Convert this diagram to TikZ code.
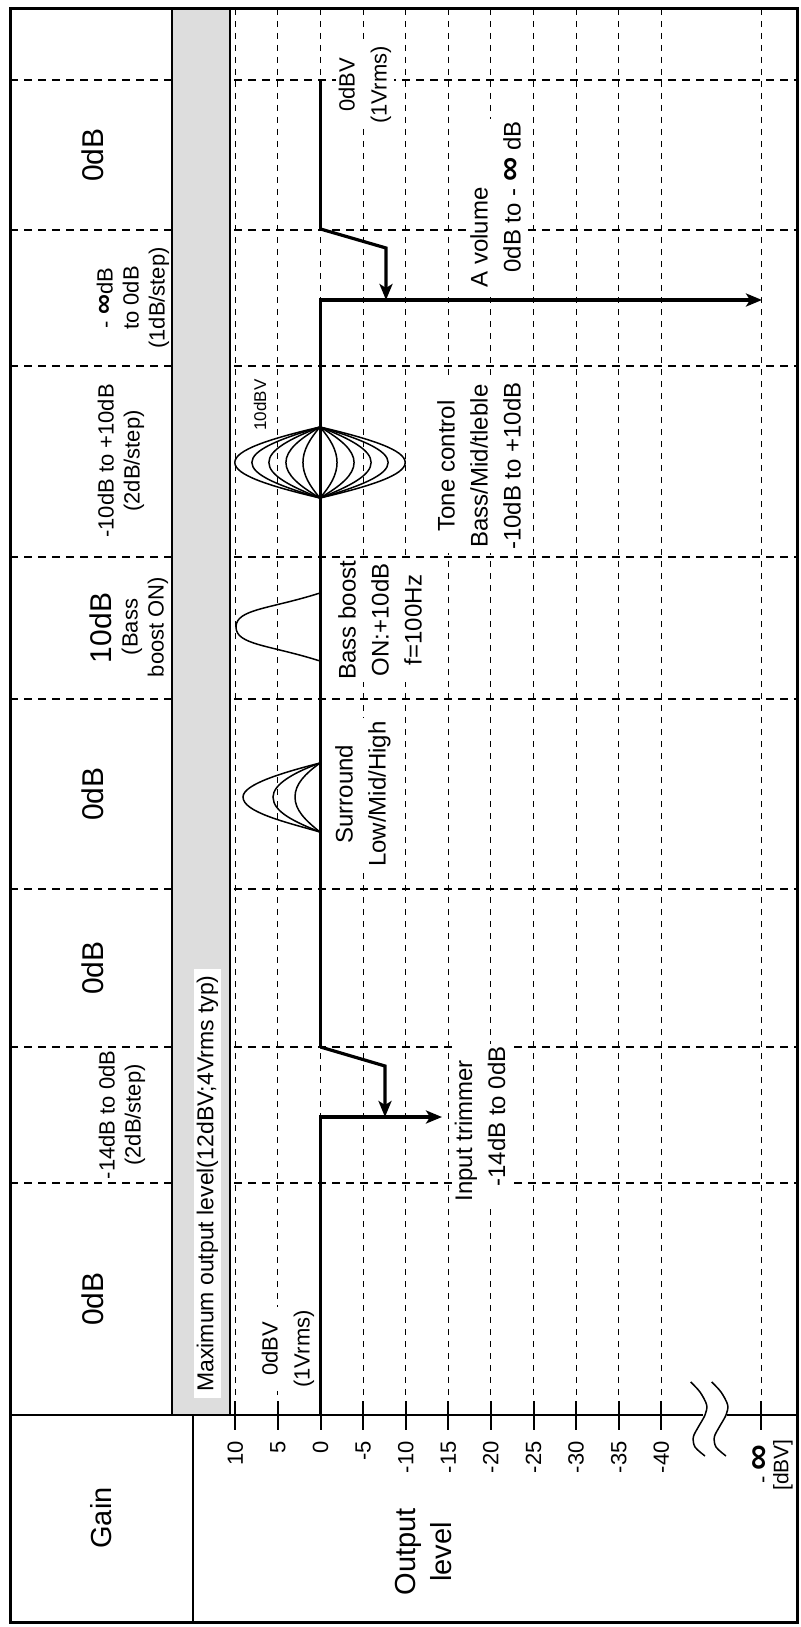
\documentclass[tikz,border=0pt]{standalone}
\usepackage{fontspec}
\setmainfont{Liberation Sans}
\usetikzlibrary{arrows.meta}

\definecolor{bandgray}{RGB}{221,221,221}
\newcommand{\infsym}[1]{{\fontsize{#1}{#1}\selectfont\bfseries ∞}}

\begin{document}
\begin{tikzpicture}[x=0.5pt,y=-0.5pt,
  frame/.style={line width=1.5pt},
  rule/.style={line width=1pt},
  gridln/.style={line width=0.5pt,dash pattern=on 3pt off 3pt},
  stageln/.style={line width=0.6pt,dash pattern=on 4pt off 3pt},
  sig/.style={line width=1.6pt},
  arr/.style={sig,-{Stealth[length=8pt,width=6.5pt,inset=2pt]}},
  eq/.style={line width=0.75pt},
  txt/.style={rotate=90,align=center,inner sep=1.5pt},
  big/.style={txt,font=\fontsize{15}{17}\selectfont},
  gsub/.style={txt,font=\fontsize{11}{13}\selectfont},
  lvl/.style={txt,font=\fontsize{11}{12}\selectfont},
  note/.style={txt,fill=white,font=\fontsize{12}{16.5}\selectfont},
  vnote/.style={txt,fill=white,font=\fontsize{11}{16}\selectfont}]

\useasboundingbox (0,0) rectangle (801,1627);

% ---- grid ----
\foreach \s in {80,230,366,557,699,889,1047,1183}
  \draw[stageln] (10,\s) -- (797,\s);
\foreach \v in {10,5,...,-40}
  \draw[gridln] ({320.5-8.52*\v},9) -- ({320.5-8.52*\v},1415);
\draw[gridln] (761,9) -- (761,1415);

% ---- max output band ----
\draw[rule,fill=bandgray] (172,9) rectangle (230,1415);
\node[txt,fill=white,font=\fontsize{11.5}{12}\selectfont,inner xsep=3pt] (maxout) at (207.5,1183.5)
  {Maximum output level(12dBV;4Vrms typ)};

% ---- frame and level axis ----
\draw[frame] (10,9) rectangle (797,1622);
\draw[rule] (10,1415) -- (703,1415);
\draw[rule] (727,1415) -- (797,1415);
\draw[rule] (193,1415) -- (193,1622);
\foreach \v [count=\i] in {10,5,...,-40} {
  \draw[rule] ({320.5-8.52*\v},1401) -- ++(0,29);
  \node[lvl,anchor=east] (lv\i) at ({320.5-8.52*\v},1438) {\v};
}
\draw[rule] (761,1401) -- ++(0,29);
\node[lvl,anchor=east] (lvinf) at (761,1441) {- \infsym{18}};
\node[txt,anchor=east,font=\fontsize{10.5}{11}\selectfont] (dbv) at (783,1436) {[dBV]};
\draw[eq] plot[smooth] coordinates {(690.7,1382) (700,1392) (706.7,1405) (705,1415) (698.3,1427) (693.3,1437) (695,1447) (705,1456)};
\draw[eq] plot[smooth] coordinates {(711.7,1382) (721,1392) (727.7,1405) (726,1415) (719.3,1427) (714.3,1437) (716,1447) (726,1456)};

\node[txt,font=\fontsize{14.5}{17}\selectfont] (gain) at (101,1518) {Gain};
\node[txt,font=\fontsize{14.5}{18}\selectfont] (outlvl) at (424,1552) {Output\\level};

% ---- gain row ----
\node[big] (g1) at (93,155) {0dB};
\node[gsub] (g2) at (133,298) {- \infsym{14}dB\\to 0dB\\(1dB/step)};
\node[gsub] (g3) at (121,461) {-10dB to +10dB\\(2dB/step)};
\node[big] (g4) at (101,628) {10dB};
\node[gsub] (g4b) at (145,627) {(Bass\\boost ON)};
\node[big] (g5) at (93,794) {0dB};
\node[big] (g6) at (93,968) {0dB};
\node[gsub] (g7) at (122,1115) {-14dB to 0dB\\(2dB/step)};
\node[big] (g8) at (93,1299) {0dB};

% ---- labels in the plot ----
\node[vnote] (top0) at (365,85) {0dBV\\(1Vrms)};
\node[vnote] (bot0) at (288,1349) {0dBV\\(1Vrms)};
\node[txt,font=\fontsize{8.5}{9}\selectfont] (tone10) at (260,405) {10dBV};
\node[note] (surr) at (363,794) {Surround\\Low/Mid/High};
\node[note] (bass) at (380,620) {Bass boost\\ON:+10dB\\f=100Hz};
\node[note] (tone) at (479,466) {Tone control\\Bass/Mid/tleble\\-10dB to +10dB};
\node[note,align=left,anchor=west] (avol) at (495.5,291) {A volume\\\hspace*{7.5pt}0dB to - \infsym{17} dB};
\node[note,align=left,anchor=west] (trim) at (480,1205) {Input trimmer\\\hspace*{7.5pt}-14dB to 0dB};

% ---- level curves ----
\draw[eq] (320,832) .. controls (285,822) and (243,812) .. (243,797) .. controls (243,784) and (285,772) .. (320,763);
\draw[eq] (320,832) .. controls (295,822) and (273,812) .. (273,797) .. controls (273,784) and (295,772) .. (320,763);
\draw[eq] (320,832) .. controls (305,820) and (295,810) .. (295,797) .. controls (295,784) and (305,774) .. (320,763);
\draw[eq] (320,661) .. controls (270,645) and (236,645) .. (236,627) .. controls (236,609) and (270,609) .. (320,593);
\foreach \d in {17.04,34.08,51.12,68.16,85.2} {
  \draw[eq] (320,427) .. controls ({320-0.6*\d},439) and ({320-\d},450) .. ({320-\d},462.5)
    .. controls ({320-\d},475) and ({320-0.6*\d},486) .. (320,498);
  \draw[eq] (320,427) .. controls ({320+0.6*\d},439) and ({320+\d},450) .. ({320+\d},462.5)
    .. controls ({320+\d},475) and ({320+0.6*\d},486) .. (320,498);
}

% ---- signal level ----
\draw[arr] (320.5,1415) -- (320.5,1117) -- (442,1117);
\draw[arr] (320.5,1047) -- (385,1066) -- (385,1117);
\draw[arr] (320.5,1047) -- (320.5,300) -- (762,300);
\draw[arr] (320.5,229) -- (386,248) -- (386,300);
\draw[sig] (320.5,229) -- (320.5,80);
\end{tikzpicture}
\end{document}
